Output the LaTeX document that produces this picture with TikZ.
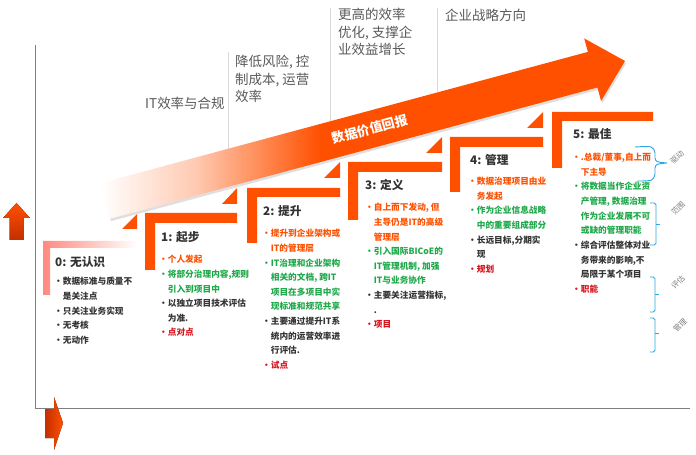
\documentclass[tikz,border=0pt]{standalone}
\usepackage{fontspec}
\setmainfont{Noto Sans CJK SC}
\usepackage{xcolor}
\usetikzlibrary{shadows}
\definecolor{Flame}{HTML}{FF5000}
\definecolor{DarkFlame}{HTML}{C42E00}
\definecolor{Blush}{HTML}{FF8A80}
\definecolor{LeafGreen}{HTML}{1FA84A}
\definecolor{Crimson}{HTML}{D7141E}
\definecolor{Ink}{HTML}{333333}
\definecolor{SoftGray}{HTML}{595959}
\definecolor{AxisGray}{HTML}{7F7F7F}
\definecolor{SkyBlue}{HTML}{2EA7E0}
\pgfdeclarehorizontalshading{valuefade}{100bp}{color(0bp)=(white); color(25bp)=(white); color(34bp)=(Flame!30); color(46bp)=(Flame); color(100bp)=(Flame)}

\begin{document}
\begin{tikzpicture}[x=0.03cm, y=-0.03cm,
        stair/.style={fill=Flame},
        title/.style={anchor=west, inner sep=0, text=Ink,
                    font=\fontsize{10}{12}\selectfont\bfseries},
        items/.style={anchor=north west, inner sep=0, align=left, text=Ink,
                    font=\fontsize{7.4}{12.5}\selectfont\bfseries},
        goal/.style={anchor=north west, inner sep=0, align=left, text=SoftGray,
                    font=\fontsize{11.5}{15}\selectfont},
        brace/.style={draw=SkyBlue, line width=0.8pt},
        tag/.style={rotate=45, inner sep=0, text=AxisGray,
                    font=\fontsize{6.5}{7}\selectfont}]

        \useasboundingbox (0,0) rectangle (696,455);

        % Axes
        \draw[AxisGray, line width=0.8pt] (35,45) -- (35,408) -- (690,408);
        \fill[top color=Flame, bottom color=DarkFlame]
            (16.5,203) -- (30,218) -- (23.5,218) -- (23.5,240) -- (9.5,240) -- (9.5,218) -- (3,218) -- cycle;
        \fill[left color=DarkFlame, right color=Flame]
            (45,409) -- (54,409) -- (54,397) -- (63,423) -- (54,450) -- (54,438) -- (45,438) -- cycle;

        % Goals along the top
        \draw[gray!30] (228,52) -- (228,150);
        \draw[gray!30] (330,8) -- (330,121);
        \draw[gray!30] (437,8) -- (437,92);
        \node[goal, anchor=west] (g1) at (145,103) {IT效率与合规};
        \node[goal] (g2) at (235,55) {降低风险, 控\\制成本, 运营\\效率};
        \node[goal] (g3) at (338,8) {更高的效率\\优化, 支撑企\\业效益增长};
        \node[goal, anchor=west] (g4) at (445,15) {企业战略方向};

        % Value arrow
        \shade[shading=valuefade, drop shadow={opacity=0.25, shadow xshift=1pt, shadow yshift=-2pt}]
            (100.2,183.2) -- (587.9,51.9) -- (584.2,38.4) -- (625,61) -- (601.1,101) -- (597.4,87.5) -- (109.8,218.8) -- cycle;
        \node[rotate=15, text=white, font=\fontsize{11}{13}\selectfont\bfseries] (gain) at (370,129) {数据价值回报};

        % Stairs
        \shade[left color=Blush, right color=white]
            (43,241) -- ++(94,0) -- ++(0,7) -- ++(-87,0) -- ++(0,47) -- ++(-7,0) -- cycle;
        \fill[stair] (122,229) -- (137,229) -- (137,214) -- cycle;
        \fill[stair] (145,213) -- ++(92,0) -- ++(0,10) -- ++(-82,0) -- ++(0,47) -- ++(-10,0) -- cycle;
        \fill[stair] (222,204) -- (237,204) -- (237,188) -- cycle;
        \fill[stair] (247,188) -- ++(93,0) -- ++(0,9) -- ++(-83,0) -- ++(0,46) -- ++(-10,0) -- cycle;
        \fill[stair] (324,178) -- (340,178) -- (340,162) -- cycle;
        \fill[stair] (348,162) -- ++(94,0) -- ++(0,10) -- ++(-84,0) -- ++(0,48) -- ++(-10,0) -- cycle;
        \fill[stair] (426,153) -- (442,153) -- (442,137) -- cycle;
        \fill[stair] (450,137) -- ++(93,0) -- ++(0,10) -- ++(-83,0) -- ++(0,45) -- ++(-10,0) -- cycle;
        \fill[stair] (527,128) -- (543,128) -- (543,112) -- cycle;
        \fill[stair] (552,112) -- ++(101,0) -- ++(0,9) -- ++(-91,0) -- ++(0,47) -- ++(-10,0) -- cycle;

        % Stage titles
        \node[title] (t0) at (55,262) {0: 无认识};
        \node[title] (t1) at (161,237) {1: 起步};
        \node[title] (t2) at (263,211) {2: 提升};
        \node[title] (t3) at (365,185) {3: 定义};
        \node[title] (t4) at (470,160) {4: 管理};
        \node[title] (t5) at (573,134) {5: 最佳};

        % Stage items
        \node[items] (b0) at (54,277) {·数据标准与质量不\\\hphantom{·}是关注点\\·只关注业务实现\\·无考核\\·无动作};
        \node[items] (b1) at (159,255) {\textcolor{Flame}{·个人发起}\\
            \textcolor{LeafGreen}{·将部分治理内容,规则}\\
            \textcolor{LeafGreen}{\hphantom{·}引入到项目中}\\
            ·以独立项目技术评估\\
            \hphantom{·}为准.\\
            \textcolor{Crimson}{·点对点}};
        \node[items] (b2) at (262,229) {\textcolor{Flame}{·提升到企业架构或}\\
            \textcolor{Flame}{\hphantom{·}IT的管理层}\\
            \textcolor{LeafGreen}{·IT治理和企业架构}\\
            \textcolor{LeafGreen}{\hphantom{·}相关的文档, 跨IT}\\
            \textcolor{LeafGreen}{\hphantom{·}项目在多项目中实}\\
            \textcolor{LeafGreen}{\hphantom{·}现标准和规范共享}\\
            ·主要通过提升IT系\\
            \hphantom{·}统内的运营效率进\\
            \hphantom{·}行评估.\\
            \textcolor{Crimson}{·试点}};
        \node[items] (b3) at (365,203) {\textcolor{Flame}{·自上而下发动, 但}\\
            \textcolor{Flame}{\hphantom{·}主导仍是IT的高级}\\
            \textcolor{Flame}{\hphantom{·}管理层}\\
            \textcolor{LeafGreen}{·引入国际BICoE的}\\
            \textcolor{LeafGreen}{\hphantom{·}IT管理机制, 加强}\\
            \textcolor{LeafGreen}{\hphantom{·}IT与业务协作}\\
            ·主要关注运营指标,\\
            \hphantom{·}.\\
            \textcolor{Crimson}{·项目}};
        \node[items] (b4) at (468,177) {\textcolor{Flame}{·数据治理项目由业}\\
            \textcolor{Flame}{\hphantom{·}务发起}\\
            \textcolor{LeafGreen}{·作为企业信息战略}\\
            \textcolor{LeafGreen}{\hphantom{·}中的重要组成部分}\\
            ·长远目标,分期实\\
            \hphantom{·}现\\
            \textcolor{Crimson}{·规划}};
        \node[items] (b5) at (572,153) {\textcolor{Flame}{·.总裁/董事,自上而}\\
            \textcolor{Flame}{\hphantom{·}下主导}\\
            \textcolor{LeafGreen}{·将数据当作企业资}\\
            \textcolor{LeafGreen}{\hphantom{·}产管理, 数据治理}\\
            \textcolor{LeafGreen}{\hphantom{·}作为企业发展不可}\\
            \textcolor{LeafGreen}{\hphantom{·}或缺的管理职能}\\
            ·综合评估整体对业\\
            \hphantom{·}务带来的影响,不\\
            \hphantom{·}局限于某个项目\\
            \textcolor{Crimson}{·职能}};

        % Brackets on the right
        \draw[brace] (635,147) .. controls (653,146) .. (655,153) -- (655,158)
            .. controls (656,162) .. (667,163) .. controls (656,164) .. (655,168)
            -- (655,174) .. controls (653,181) .. (637,181);
        \draw[brace, rounded corners=1.5pt] (650,203) -- (656,203) -- (656,245) -- (650,245);
        \draw[brace] (656,224) -- (660,224);
        \draw[brace, rounded corners=1.5pt] (650,277) -- (655,277) -- (655,312) -- (650,312);
        \draw[brace] (655,294) -- (659,294);
        \draw[brace, rounded corners=1.5pt] (650,318) -- (655,318) -- (655,352) -- (650,352);
        \draw[brace] (655,333) -- (659,333);
        \node[tag] (k1) at (677,157) {驱动};
        \node[tag] (k2) at (678,208) {范围};
        \node[tag] (k3) at (678,282) {评估};
        \node[tag] (k4) at (680,325) {管理};
      \end{tikzpicture}
\end{document}
